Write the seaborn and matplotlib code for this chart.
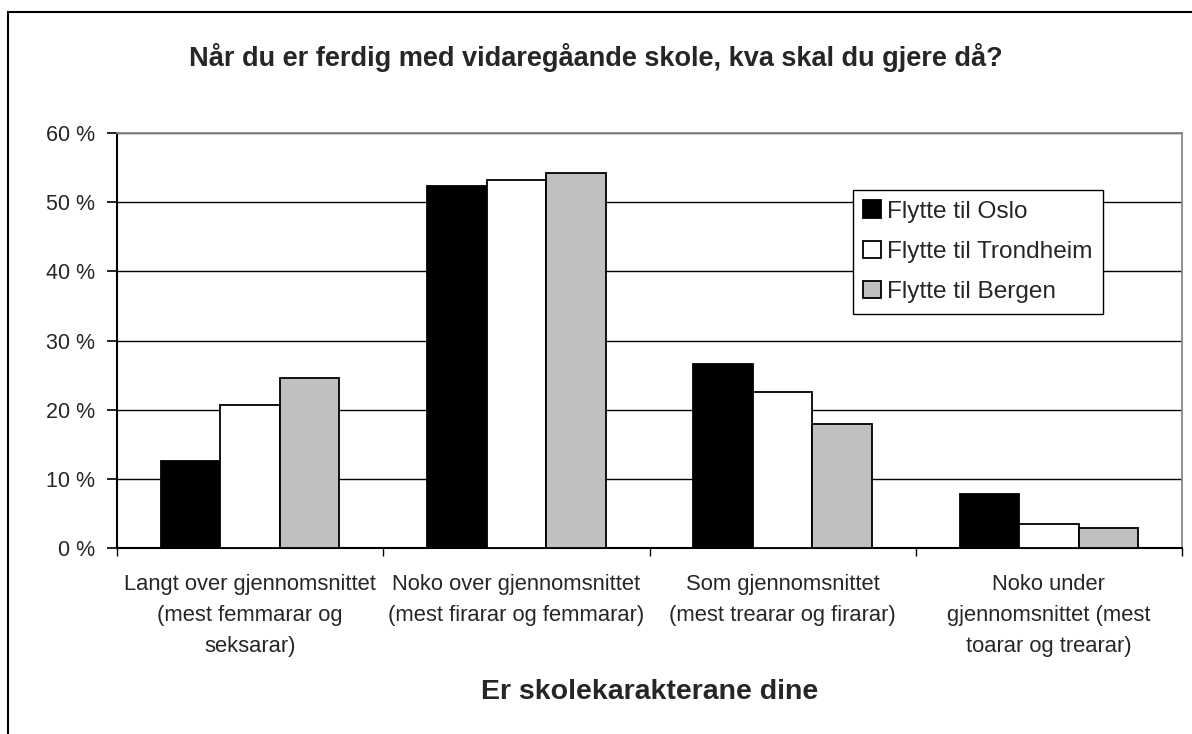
import pandas as pd
import seaborn as sns
import matplotlib.pyplot as plt
from matplotlib.patches import Rectangle

categories = ['Langt over gjennomsnittet\n(mest femmarar og\nseksarar)',
              'Noko over gjennomsnittet\n(mest firarar og femmarar)',
              'Som gjennomsnittet\n(mest trearar og firarar)',
              'Noko under\ngjennomsnittet (mest\ntoarar og trearar)']
series = ['Flytte til Oslo', 'Flytte til Trondheim', 'Flytte til Bergen']
oslo = [0.125, 0.524, 0.266, 0.078]
trondheim = [0.207, 0.533, 0.226, 0.035]
bergen = [0.245, 0.542, 0.179, 0.029]
yticks = [0, 0.1, 0.2, 0.3, 0.4, 0.5, 0.6]
ytick_labels = ['0 %', '10 %', '20 %', '30 %', '40 %', '50 %', '60 %']

rows = []
for name, vals in zip(series, [oslo, trondheim, bergen]):
    for cat, v in zip(categories, vals):
        rows.append({'kategori': cat, 'serie': name, 'andel': v})
df = pd.DataFrame(rows)

sns.set_style('white')
plt.rcParams['font.family'] = ['Liberation Sans', 'DejaVu Sans']

fig = plt.figure(figsize=(11.92, 7.34), dpi=100)
ax = fig.add_axes([117 / 1192, 1 - 547.7 / 734, 1065 / 1192, 414.4 / 734])

sns.barplot(data=df, x='kategori', y='andel', hue='serie', order=categories,
            hue_order=series, palette=['black', 'white', '#c0c0c0'],
            edgecolor='black', linewidth=1.3, width=0.67, gap=0,
            saturation=1, ax=ax, zorder=3)

ax.set_ylim(0, 0.6)
ax.set_xlim(-0.5, 3.5)
ax.set_yticks(yticks)
ax.set_yticklabels(ytick_labels, fontsize=15.5)
ax.yaxis.grid(True, color='black', linewidth=1.0, zorder=0)
ax.set_axisbelow(True)
ax.tick_params(axis='y', direction='out', length=7, width=1.2, color='black', pad=8.5, left=True)

ax.set_xticks(range(len(categories)))
ax.set_xticklabels(categories, fontsize=15.8, linespacing=1.62)
ax.tick_params(axis='x', which='major', length=0, pad=19)
ax.set_xticks([-0.5, 0.5, 1.5, 2.5, 3.5], minor=True)
ax.tick_params(axis='x', which='minor', direction='out', length=6, width=1.0, color='black', bottom=True)

ax.set_xlabel('')
ax.set_ylabel('')
for side in ['left', 'bottom']:
    ax.spines[side].set_color('black')
    ax.spines[side].set_linewidth(1.5)
for side in ['top', 'right']:
    ax.spines[side].set_visible(True)
    ax.spines[side].set_color('#888888')
    ax.spines[side].set_linewidth(1.3)

leg = ax.legend(loc='upper left', bbox_to_anchor=(0.691, 0.863), fontsize=17.6,
                frameon=True, fancybox=False, shadow=False, borderaxespad=0,
                handlelength=0.72, handleheight=0.72, handletextpad=0.25,
                borderpad=0.42, labelspacing=0.74)
leg.get_frame().set_edgecolor('black')
leg.get_frame().set_linewidth(1.0)
leg.get_frame().set_alpha(1)

fig.text(0.5, 1 - 58 / 734, 'Når du er ferdig med vidaregåande skole, kva skal du gjere då?',
         ha='center', va='center', fontsize=19.5, fontweight='bold')
fig.text(649.5 / 1192, 1 - 692 / 734, 'Er skolekarakterane dine',
         ha='center', va='center', fontsize=20.5, fontweight='bold')

fig.patches.append(Rectangle((8 / 1192, -0.05), 1.1, 1 - 12 / 734 + 0.05,
                             transform=fig.transFigure, fill=False,
                             edgecolor='black', linewidth=1.5))

fig.savefig('out.png', dpi=100)
